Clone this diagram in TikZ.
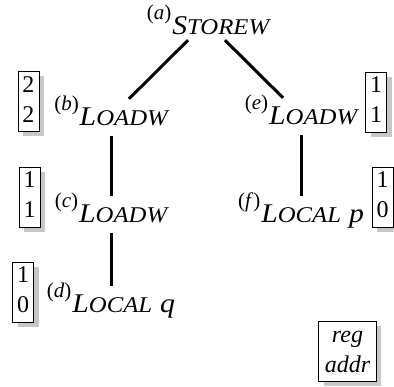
\documentclass[tikz,border=0pt]{standalone}
\usepackage{fontspec}
\setmainfont{Liberation Serif}
\usetikzlibrary{positioning, shadows}

% operator names in slanted small caps
\newcommand{\opn}[2]{{\itshape\addfontfeatures{FakeStretch=1.1}\fontsize{27}{27}\selectfont #1\fontsize{22.5}{22.5}\selectfont #2}}
\newcommand{\opv}[1]{\hspace{8pt}{\itshape\addfontfeatures{FakeStretch=1.1}\fontsize{27}{27}\selectfont #1}}
% node tag, raised like a superscript
\newcommand{\optag}[1]{\raisebox{15pt}{\fontsize{21}{21}\selectfont\textup{(}\textit{#1}\textup{)}}\hspace{1pt}}

\begin{document}
\begin{tikzpicture}[x=1pt, y=-1pt,
    op/.style={anchor=base, inner xsep=0pt, inner ysep=5pt, text height=22pt, text depth=5pt},
    need/.style={draw, line width=0.8pt, fill=white, align=center, inner xsep=4.5pt, inner ysep=0pt,
        font=\fontsize{24}{30}\selectfont,
        drop shadow={shadow xshift=5pt, shadow yshift=-5pt, fill=black!22, opacity=1}},
    edge/.style={line width=3pt}]

    \useasboundingbox (0,0) rectangle (394,387);

    % operator tree
    \node[op, inner ysep=0pt] (a) at (208,35) {\optag{a}\opn{S}{TOREW}};
    \node[op] (b) at (111,126) {\optag{b}\opn{L}{OADW}};
    \node[op] (c) at (111,223) {\optag{c}\opn{L}{OADW}};
    \node[op] (d) at (111,313) {\optag{d}\opn{L}{OCAL}\opv{q}};
    \node[op] (e) at (301,125) {\optag{e}\opn{L}{OADW}};
    \node[op] (f) at (301,223) {\optag{f}\opn{L}{OCAL}\opv{p}};

    % register / address needs of each subtree
    \node[need] (rb) at (28.5,101.5) {\strut 2\\\strut 2};
    \node[need] (rc) at (29.5,197) {\strut 1\\\strut 1};
    \node[need] (rd) at (23,292) {\strut 1\\\strut 0};
    \node[need] (re) at (376,102) {\strut 1\\\strut 1};
    \node[need] (rf) at (382.5,197) {\strut 1\\\strut 0};

    % legend
    \node[need, inner xsep=6pt] (key) at (347.5,351.5) {\strut\textit{reg}\\\strut\textit{addr}};

    % Connections: parent to child
    \draw[edge] ([xshift=-20pt]a.south) -- ([xshift=18pt]b.north);
    \draw[edge] ([xshift=17pt]a.south) -- ([xshift=-18pt]e.north);
    \draw[edge] (b) -- (c);
    \draw[edge] (c) -- (d);
    \draw[edge] (e) -- (f);

\end{tikzpicture}
\end{document}
